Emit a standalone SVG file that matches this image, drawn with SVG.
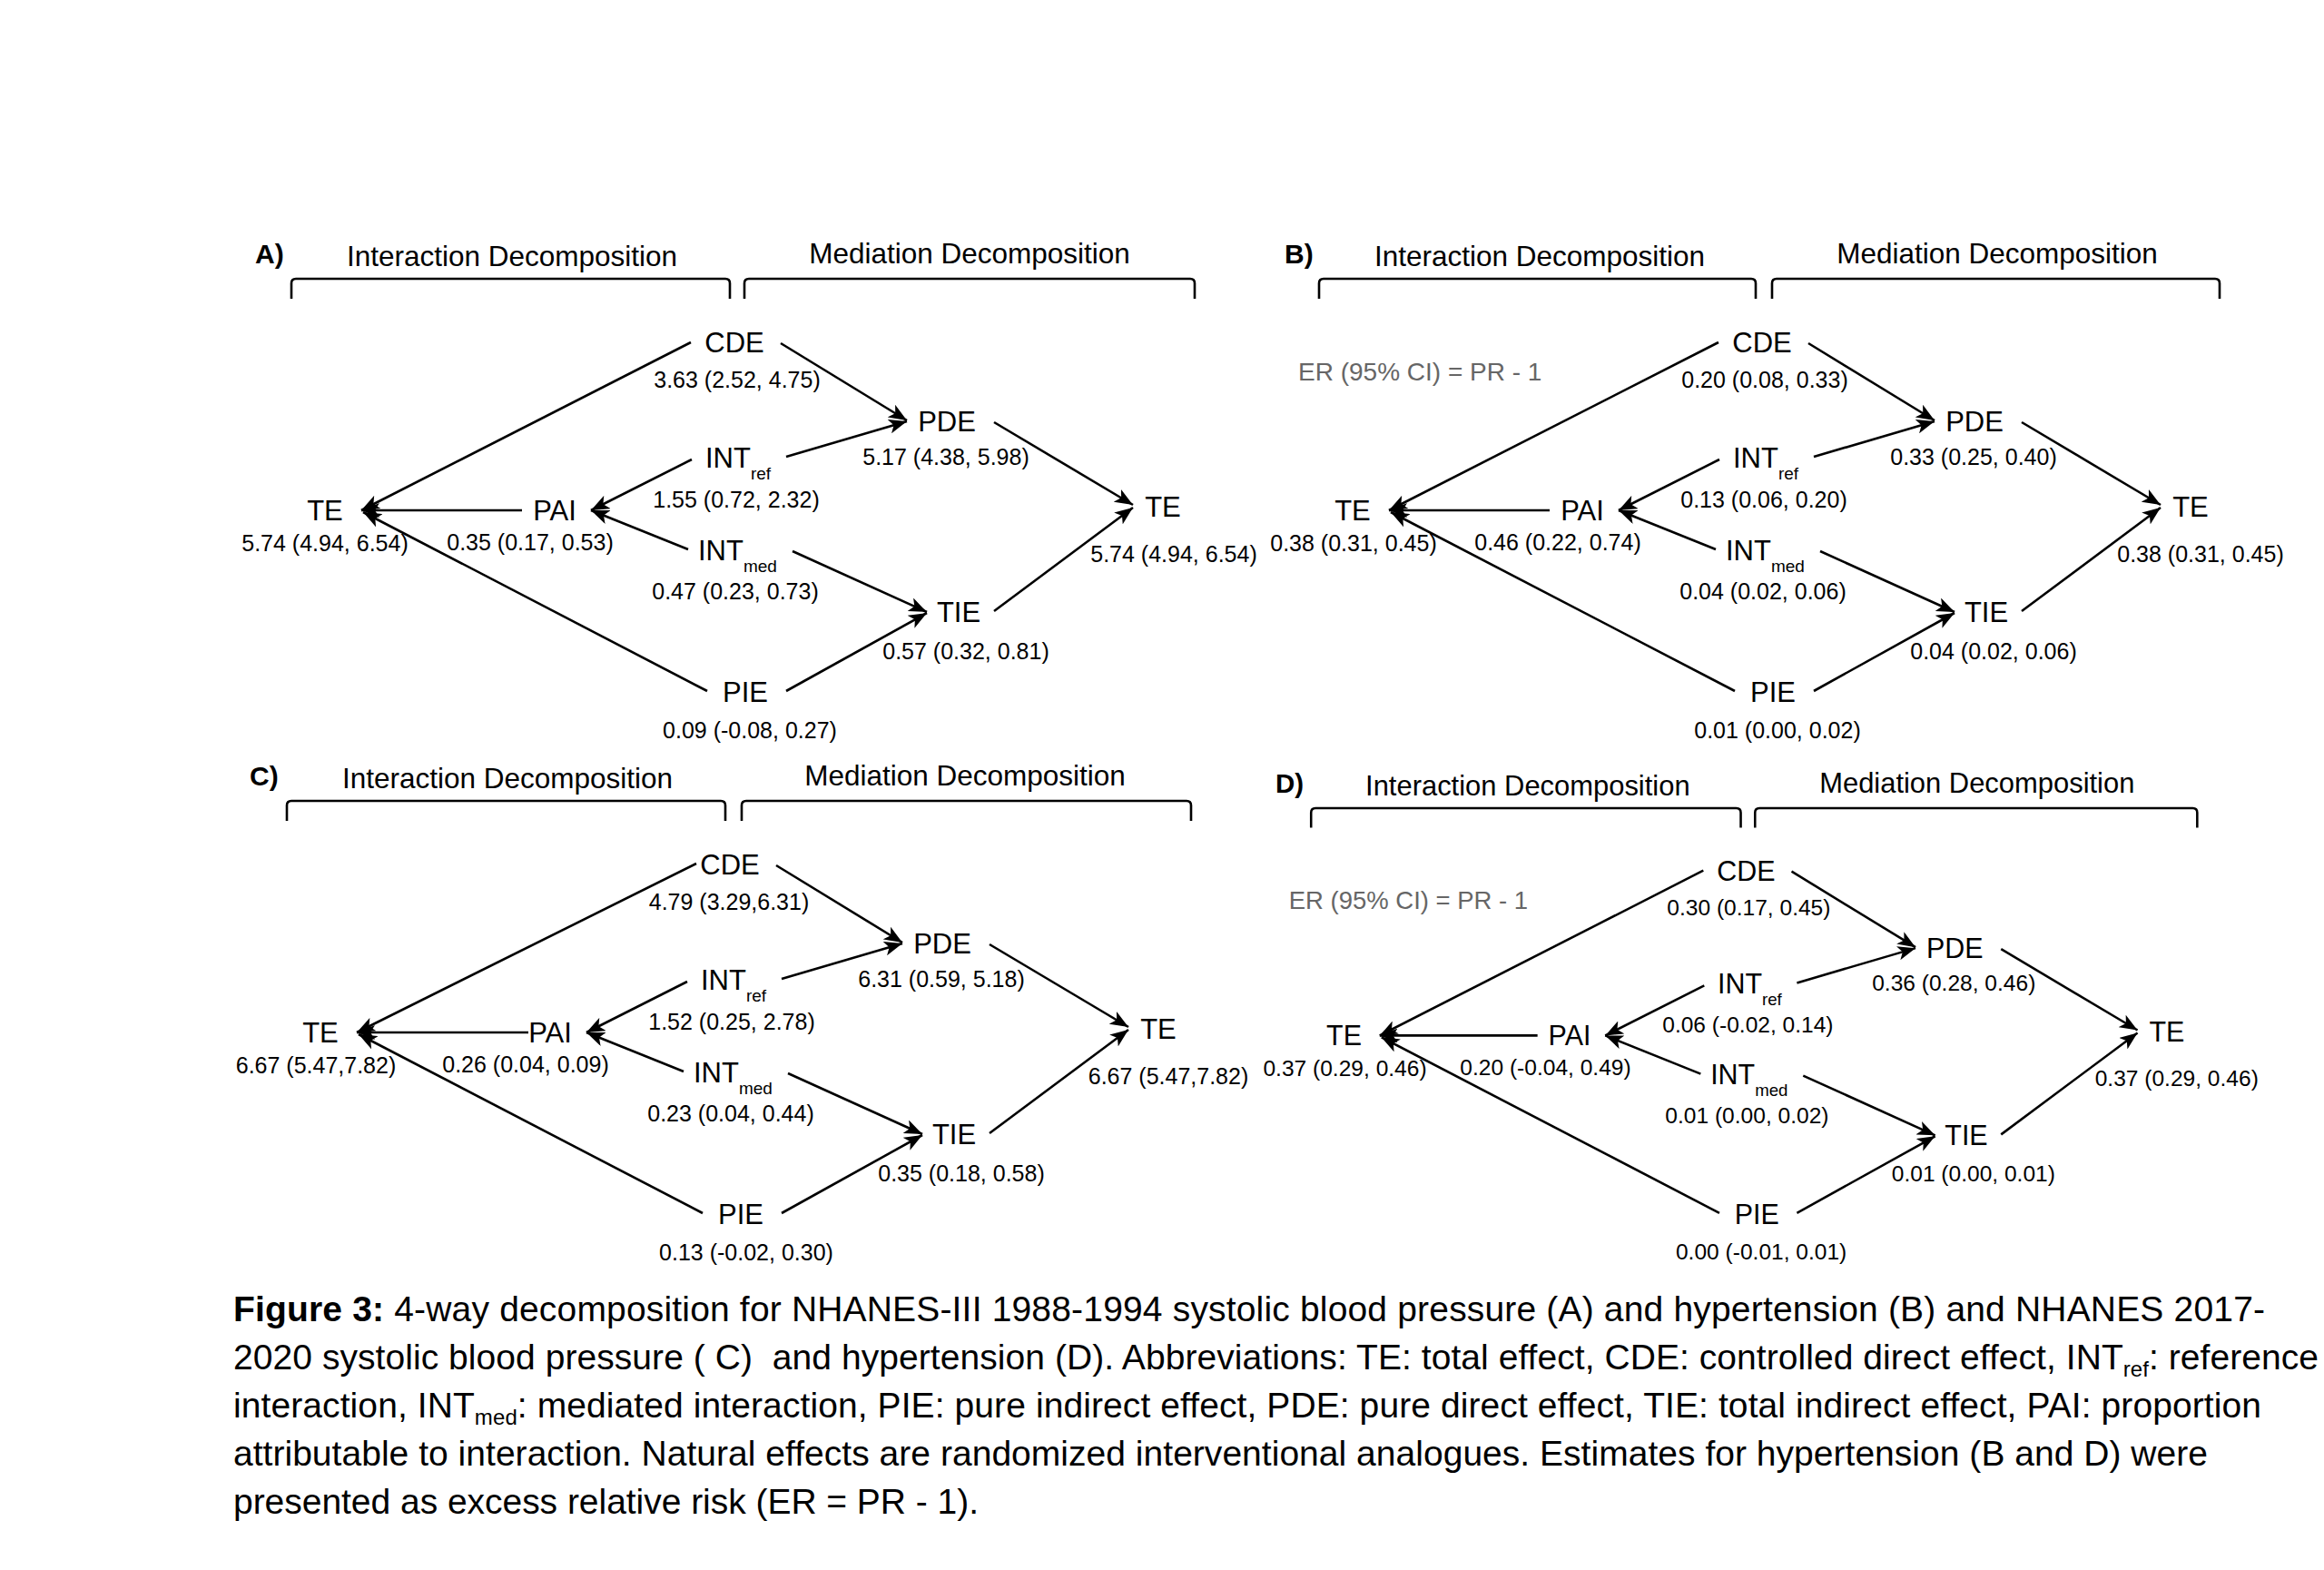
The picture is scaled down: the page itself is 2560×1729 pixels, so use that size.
<svg xmlns="http://www.w3.org/2000/svg" width="2560" height="1729" viewBox="0 0 2560 1729">
<style>
text { font-family: "Liberation Sans", Arial, sans-serif; fill: #000; }
.pl { font-size: 30px; font-weight: bold; }
.hd { font-size: 31.5px; text-anchor: middle; }
.n { font-size: 31px; text-anchor: middle; }
.ns { font-size: 31px; }
.v { font-size: 25px; text-anchor: middle; }
.s { font-size: 19px; }
.er { font-size: 28px; fill: #666; }
.cap { font-size: 39px; white-space: pre; }
.csub { font-size: 24px; }
.br { fill: none; stroke: #000; stroke-width: 2.6; }
.c { fill: none; stroke: #000; stroke-width: 2.6; marker-end: url(#ah); }
</style>
<defs>
<marker id="ah" markerUnits="userSpaceOnUse" markerWidth="22" markerHeight="16" refX="20" refY="8" orient="auto">
<path d="M0,0 L20,8 L0,16 L5,8 z" fill="#000"/>
</marker>
</defs>
<rect width="2560" height="1729" fill="#fff"/>

<!-- Panel A -->
<g id="panelA">
<g id="A-header">
<text class="pl" x="281" y="290">A)</text>
<text class="hd" x="564" y="293">Interaction Decomposition</text>
<text class="hd" x="1068" y="290">Mediation Decomposition</text>
<path class="br" d="M321,329 V312 Q321,307 326,307 H799 Q804,307 804,312 V329"/>
<path class="br" d="M820,329 V312 Q820,307 825,307 H1311 Q1316,307 1316,312 V329"/>
</g>
<g id="A-connectors">
<path class="c" d="M761,377 L398,562"/>
<path class="c" d="M575,562 L398,562"/>
<path class="c" d="M779,761 L400,564"/>
<path class="c" d="M762,506 L651,562"/>
<path class="c" d="M758,605 L651,562"/>
<path class="c" d="M860,378 L999,463"/>
<path class="c" d="M866,503 L999,464"/>
<path class="c" d="M1095,465 L1248,556"/>
<path class="c" d="M1095,673 L1248,559"/>
<path class="c" d="M873,607 L1021,674"/>
<path class="c" d="M866,761 L1021,675"/>
</g>
<g id="A-TE-left"><text class="n" x="358" y="573">TE</text><text class="v" x="358" y="607">5.74 (4.94, 6.54)</text></g>
<g id="A-PAI"><text class="n" x="611" y="573">PAI</text><text class="v" x="584" y="606">0.35 (0.17, 0.53)</text></g>
<g id="A-CDE"><text class="n" x="809" y="388">CDE</text><text class="v" x="812" y="427">3.63 (2.52, 4.75)</text></g>
<g id="A-INTref"><text class="ns" x="777" y="515">INT<tspan class="s" dy="13">ref</tspan></text><text class="v" x="811" y="559">1.55 (0.72, 2.32)</text></g>
<g id="A-INTmed"><text class="ns" x="769" y="617">INT<tspan class="s" dy="13">med</tspan></text><text class="v" x="810" y="660">0.47 (0.23, 0.73)</text></g>
<g id="A-PIE"><text class="n" x="821" y="773">PIE</text><text class="v" x="826" y="813">0.09 (-0.08, 0.27)</text></g>
<g id="A-PDE"><text class="n" x="1043" y="475">PDE</text><text class="v" x="1042" y="512">5.17 (4.38, 5.98)</text></g>
<g id="A-TIE"><text class="n" x="1056" y="685">TIE</text><text class="v" x="1064" y="726">0.57 (0.32, 0.81)</text></g>
<g id="A-TE-right"><text class="n" x="1281" y="569">TE</text><text class="v" x="1293" y="619">5.74 (4.94, 6.54)</text></g>
</g>

<!-- Panel B -->
<g id="panelB" transform="translate(1132,0)">
<g id="B-header">
<text class="pl" x="283" y="290">B)</text>
<text class="hd" x="564" y="293">Interaction Decomposition</text>
<text class="hd" x="1068" y="290">Mediation Decomposition</text>
<path class="br" d="M321,329 V312 Q321,307 326,307 H797 Q802,307 802,312 V329"/>
<path class="br" d="M820,329 V312 Q820,307 825,307 H1308 Q1313,307 1313,312 V329"/>
<text class="er" x="298" y="419">ER (95% CI) = PR - 1</text>
</g>
<g id="B-connectors">
<path class="c" d="M761,377 L398,562"/>
<path class="c" d="M575,562 L398,562"/>
<path class="c" d="M779,761 L400,564"/>
<path class="c" d="M762,506 L651,562"/>
<path class="c" d="M758,605 L651,562"/>
<path class="c" d="M860,378 L999,463"/>
<path class="c" d="M866,503 L999,464"/>
<path class="c" d="M1095,465 L1248,556"/>
<path class="c" d="M1095,673 L1248,559"/>
<path class="c" d="M873,607 L1021,674"/>
<path class="c" d="M866,761 L1021,675"/>
</g>
<g id="B-TE-left"><text class="n" x="358" y="573">TE</text><text class="v" x="359" y="607">0.38 (0.31, 0.45)</text></g>
<g id="B-PAI"><text class="n" x="611" y="573">PAI</text><text class="v" x="584" y="606">0.46 (0.22, 0.74)</text></g>
<g id="B-CDE"><text class="n" x="809" y="388">CDE</text><text class="v" x="812" y="427">0.20 (0.08, 0.33)</text></g>
<g id="B-INTref"><text class="ns" x="777" y="515">INT<tspan class="s" dy="13">ref</tspan></text><text class="v" x="811" y="559">0.13 (0.06, 0.20)</text></g>
<g id="B-INTmed"><text class="ns" x="769" y="617">INT<tspan class="s" dy="13">med</tspan></text><text class="v" x="810" y="660">0.04 (0.02, 0.06)</text></g>
<g id="B-PIE"><text class="n" x="821" y="773">PIE</text><text class="v" x="826" y="813">0.01 (0.00, 0.02)</text></g>
<g id="B-PDE"><text class="n" x="1043" y="475">PDE</text><text class="v" x="1042" y="512">0.33 (0.25, 0.40)</text></g>
<g id="B-TIE"><text class="n" x="1056" y="685">TIE</text><text class="v" x="1064" y="726">0.04 (0.02, 0.06)</text></g>
<g id="B-TE-right"><text class="n" x="1281" y="569">TE</text><text class="v" x="1292" y="619">0.38 (0.31, 0.45)</text></g>
</g>

<!-- Panel C -->
<g id="panelC" transform="translate(-5,575)">
<g id="C-header">
<text class="pl" x="280" y="290">C)</text>
<text class="hd" x="564" y="293">Interaction Decomposition</text>
<text class="hd" x="1068" y="290">Mediation Decomposition</text>
<path class="br" d="M321,329 V312 Q321,307 326,307 H799 Q804,307 804,312 V329"/>
<path class="br" d="M822,329 V312 Q822,307 827,307 H1312 Q1317,307 1317,312 V329"/>
</g>
<g id="C-connectors">
<path class="c" d="M772,376 L398,562"/>
<path class="c" d="M587,562 L398,562"/>
<path class="c" d="M779,761 L400,564"/>
<path class="c" d="M762,506 L651,562"/>
<path class="c" d="M758,605 L651,562"/>
<path class="c" d="M860,378 L999,463"/>
<path class="c" d="M866,503 L999,464"/>
<path class="c" d="M1095,465 L1248,556"/>
<path class="c" d="M1095,673 L1248,559"/>
<path class="c" d="M873,607 L1021,674"/>
<path class="c" d="M866,761 L1021,675"/>
</g>
<g id="C-TE-left"><text class="n" x="358" y="573">TE</text><text class="v" x="353" y="607">6.67 (5.47,7.82)</text></g>
<g id="C-PAI"><text class="n" x="611" y="573">PAI</text><text class="v" x="584" y="606">0.26 (0.04, 0.09)</text></g>
<g id="C-CDE"><text class="n" x="809" y="388">CDE</text><text class="v" x="808" y="427">4.79 (3.29,6.31)</text></g>
<g id="C-INTref"><text class="ns" x="777" y="515">INT<tspan class="s" dy="13">ref</tspan></text><text class="v" x="811" y="559">1.52 (0.25, 2.78)</text></g>
<g id="C-INTmed"><text class="ns" x="769" y="617">INT<tspan class="s" dy="13">med</tspan></text><text class="v" x="810" y="660">0.23 (0.04, 0.44)</text></g>
<g id="C-PIE"><text class="n" x="821" y="773">PIE</text><text class="v" x="827" y="813">0.13 (-0.02, 0.30)</text></g>
<g id="C-PDE"><text class="n" x="1043" y="475">PDE</text><text class="v" x="1042" y="512">6.31 (0.59, 5.18)</text></g>
<g id="C-TIE"><text class="n" x="1056" y="685">TIE</text><text class="v" x="1064" y="726">0.35 (0.18, 0.58)</text></g>
<g id="C-TE-right"><text class="n" x="1281" y="569">TE</text><text class="v" x="1292" y="619">6.67 (5.47,7.82)</text></g>
</g>

<!-- Panel D -->
<g id="panelD" transform="translate(1129,588.5) scale(0.982)">
<g id="D-header">
<text class="pl" x="281" y="290">D)</text>
<text class="hd" x="564" y="293">Interaction Decomposition</text>
<text class="hd" x="1068" y="290">Mediation Decomposition</text>
<path class="br" d="M321,329 V312 Q321,307 326,307 H798 Q803,307 803,312 V329"/>
<path class="br" d="M819,329 V312 Q819,307 824,307 H1310 Q1315,307 1315,312 V329"/>
<text class="er" x="296" y="420">ER (95% CI) = PR - 1</text>
</g>
<g id="D-connectors">
<path class="c" d="M761,377 L398,562"/>
<path class="c" d="M575,562 L398,562"/>
<path class="c" d="M779,761 L400,564"/>
<path class="c" d="M762,506 L651,562"/>
<path class="c" d="M758,605 L651,562"/>
<path class="c" d="M860,378 L999,463"/>
<path class="c" d="M866,503 L999,464"/>
<path class="c" d="M1095,465 L1248,556"/>
<path class="c" d="M1095,673 L1248,559"/>
<path class="c" d="M873,607 L1021,674"/>
<path class="c" d="M866,761 L1021,675"/>
</g>
<g id="D-TE-left"><text class="n" x="358" y="573">TE</text><text class="v" x="359" y="607">0.37 (0.29, 0.46)</text></g>
<g id="D-PAI"><text class="n" x="611" y="573">PAI</text><text class="v" x="584" y="606">0.20 (-0.04, 0.49)</text></g>
<g id="D-CDE"><text class="n" x="809" y="388">CDE</text><text class="v" x="812" y="427">0.30 (0.17, 0.45)</text></g>
<g id="D-INTref"><text class="ns" x="777" y="515">INT<tspan class="s" dy="13">ref</tspan></text><text class="v" x="811" y="559">0.06 (-0.02, 0.14)</text></g>
<g id="D-INTmed"><text class="ns" x="769" y="617">INT<tspan class="s" dy="13">med</tspan></text><text class="v" x="810" y="660">0.01 (0.00, 0.02)</text></g>
<g id="D-PIE"><text class="n" x="821" y="773">PIE</text><text class="v" x="826" y="813">0.00 (-0.01, 0.01)</text></g>
<g id="D-PDE"><text class="n" x="1043" y="475">PDE</text><text class="v" x="1042" y="512">0.36 (0.28, 0.46)</text></g>
<g id="D-TIE"><text class="n" x="1056" y="685">TIE</text><text class="v" x="1064" y="726">0.01 (0.00, 0.01)</text></g>
<g id="D-TE-right"><text class="n" x="1281" y="569">TE</text><text class="v" x="1292" y="619">0.37 (0.29, 0.46)</text></g>
</g>

<!-- Caption -->
<g id="caption">
<text class="cap" x="257" y="1455" textLength="2238"><tspan font-weight="bold">Figure 3:</tspan> 4-way decomposition for NHANES-III 1988-1994 systolic blood pressure (A) and hypertension (B) and NHANES 2017-</text>
<text class="cap" x="257" y="1508" textLength="2297">2020 systolic blood pressure ( C)  and hypertension (D). Abbreviations: TE: total effect, CDE: controlled direct effect, INT<tspan class="csub" dy="8">ref</tspan><tspan dy="-8">: reference</tspan></text>
<text class="cap" x="257" y="1561" textLength="2234">interaction, INT<tspan class="csub" dy="8">med</tspan><tspan dy="-8">: mediated interaction, PIE: pure indirect effect, PDE: pure direct effect, TIE: total indirect effect, PAI: proportion</tspan></text>
<text class="cap" x="257" y="1614" textLength="2175">attributable to interaction. Natural effects are randomized interventional analogues. Estimates for hypertension (B and D) were</text>
<text class="cap" x="257" y="1667" textLength="821">presented as excess relative risk (ER = PR - 1).</text>
</g>
</svg>
